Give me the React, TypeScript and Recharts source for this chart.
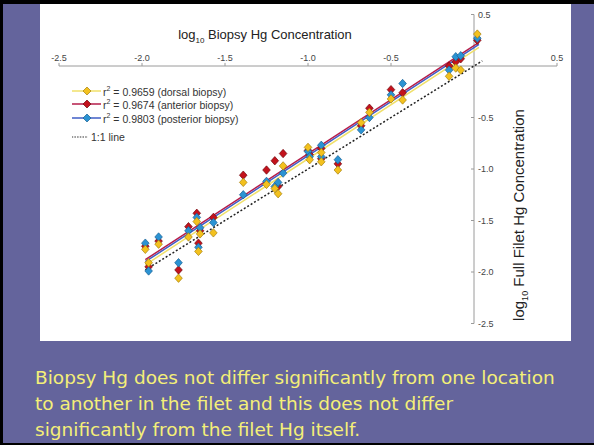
import { ScatterChart, Scatter, XAxis, YAxis, ReferenceLine } from 'recharts';

// tick labels (no 0 label on either axis)
const xTicks = [-2.5, -2.0, -1.5, -1.0, -0.5, 0.5];
const yTicks = [0.5, -0.5, -1.0, -1.5, -2.0, -2.5];

// one entry per fish, three biopsy locations
const biopsyX = [-1.98, -1.96, -1.9, -1.78, -1.72, -1.67, -1.65, -1.66, -1.57, -1.39, -1.25, -1.2, -1.15, -1.18, -1.0, -0.99, -0.92, -0.92, -0.82, -0.68, -0.63, -0.5, -0.43, -0.15, -0.11, -0.08, 0.02];
const dorsal = [-1.78, -1.91, -1.73, -2.06, -1.66, -1.51, -1.63, -1.8, -1.62, -1.13, -1.15, -1.19, -0.97, -1.24, -0.79, -0.91, -0.84, -0.93, -1.01, -0.55, -0.45, -0.32, -0.33, -0.1, -0.02, -0.04, 0.31];
const anterior = [-1.75, -1.95, -1.7, -1.98, -1.56, -1.43, -1.6, -1.72, -1.47, -1.06, -1.01, -0.92, -0.85, -1.17, -0.82, -0.86, -0.8, -0.9, -0.95, -0.58, -0.41, -0.23, -0.26, 0.0, 0.04, 0.07, 0.25];
const posterior = [-1.72, -1.99, -1.66, -1.91, -1.6, -1.47, -1.57, -1.76, -1.52, -1.25, -1.12, -1.17, -1.04, -1.13, -0.83, -0.88, -0.77, -0.88, -0.91, -0.62, -0.5, -0.28, -0.17, -0.04, 0.09, 0.1, 0.27];

// regression line end points
const fitX = [-1.98, 0.03];
const dorsalFit = [-1.93, 0.18];
const anteriorFit = [-1.88, 0.23];
const posteriorFit = [-1.9, 0.21];
const oneToOneX = [-1.98, 0.05];

const legendLabels = ['0.9659 (dorsal biopsy)', '0.9674 (anterior biopsy)', '0.9803 (posterior biopsy)'];

const COLORS = {
  dorsal: { fill: '#f3c11e', stroke: '#a5800c', line: '#f0e06a' },
  anterior: { fill: '#c3121c', stroke: '#70080e', line: '#b51d4a' },
  posterior: { fill: '#2b93d3', stroke: '#175f92', line: '#3f5ec6' },
};

const toPoints = (xs: number[], ys: number[]) => xs.map((x, i) => ({ x, y: ys[i] }));

const Diamond = ({ cx, cy, fill, stroke }: any) => {
  if (cx == null || cy == null) return <g />;
  return (
    <polygon
      points={`${cx},${cy - 4.2} ${cx + 3.8},${cy} ${cx},${cy + 4.2} ${cx - 3.8},${cy}`}
      fill={fill}
      stroke={stroke}
      strokeWidth={0.7}
    />
  );
};

const NoDot = () => <g />;

const font = '"Liberation Sans", Arial, sans-serif';

const LegendBox = () => {
  const rows = [COLORS.dorsal, COLORS.anterior, COLORS.posterior];
  return (
    <div style={{ position: 'absolute', left: 32, top: 80, fontFamily: font, fontSize: 10.5, color: '#333' }}>
      {rows.map((c, i) => (
        <div key={i} style={{ display: 'flex', alignItems: 'center', height: 13.5 }}>
          <svg width={29} height={10}>
            <line x1={0} y1={5} x2={29} y2={5} stroke={c.line} strokeWidth={1.5} />
            <polygon points="15,1 19,5 15,9 11,5" fill={c.fill} stroke={c.stroke} strokeWidth={0.7} />
          </svg>
          <span style={{ marginLeft: 2 }}>
            r<sup style={{ fontSize: 7 }}>2</sup> = {legendLabels[i]}
          </span>
        </div>
      ))}
      <div style={{ display: 'flex', alignItems: 'center', height: 13.5, marginTop: 6 }}>
        <svg width={29} height={10}>
          <line x1={-3} y1={5} x2={16} y2={5} stroke="#333" strokeWidth={1.2} strokeDasharray="1.5 1.2" />
        </svg>
        <span style={{ marginLeft: -10 }}>1:1 line</span>
      </div>
    </div>
  );
};

export default function App() {
  return (
    <div
      style={{
        position: 'absolute',
        left: 0,
        top: 0,
        width: 594,
        height: 445,
        background: '#64649c',
        borderTop: '4px solid #000',
        borderLeft: '3px solid #000',
        borderBottom: '2px solid #000',
        boxSizing: 'border-box',
        overflow: 'hidden',
      }}
    >
      <div style={{ position: 'absolute', left: 37, top: 0, width: 531, height: 337, background: '#fff' }}>
        <ScatterChart width={531} height={337} margin={{ top: 10.5, right: 14, bottom: 17.5, left: 19 }}>
          <XAxis type="number" dataKey="x" domain={[-2.5, 0.5]} hide allowDataOverflow />
          <YAxis type="number" dataKey="y" domain={[-2.5, 0.5]} hide allowDataOverflow />
          <ReferenceLine y={0} stroke="#9a9a9a" strokeWidth={1} ifOverflow="visible" />
          <ReferenceLine x={0} stroke="#9a9a9a" strokeWidth={1} ifOverflow="visible" />
          {xTicks.map((t) => (
            <ReferenceLine
              key={'x' + t}
              segment={[{ x: t, y: 0 }, { x: t, y: 0.03 }]}
              stroke="#9a9a9a"
              ifOverflow="visible"
              label={{ value: t.toFixed(1), position: 'top', offset: 2, fontSize: 9, fill: '#444', fontFamily: font }}
            />
          ))}
          {yTicks.map((t) => (
            <ReferenceLine
              key={'y' + t}
              segment={[{ x: -0.018, y: t }, { x: 0, y: t }]}
              stroke="#9a9a9a"
              ifOverflow="visible"
              label={{ value: t.toFixed(1), position: 'right', offset: 4, fontSize: 9, fill: '#444', fontFamily: font }}
            />
          ))}
          <Scatter
            data={toPoints(oneToOneX, oneToOneX)}
            line={{ stroke: '#222', strokeWidth: 1.5, strokeDasharray: '2 2' }}
            shape={NoDot}
            isAnimationActive={false}
          />
          <Scatter data={toPoints(fitX, dorsalFit)} line={{ stroke: COLORS.dorsal.line, strokeWidth: 1.5 }} shape={NoDot} isAnimationActive={false} />
          <Scatter data={toPoints(fitX, posteriorFit)} line={{ stroke: COLORS.posterior.line, strokeWidth: 1.5 }} shape={NoDot} isAnimationActive={false} />
          <Scatter data={toPoints(fitX, anteriorFit)} line={{ stroke: COLORS.anterior.line, strokeWidth: 1.5 }} shape={NoDot} isAnimationActive={false} />
          <Scatter
            data={toPoints(biopsyX, anterior)}
            shape={(p: any) => <Diamond {...p} fill={COLORS.anterior.fill} stroke={COLORS.anterior.stroke} />}
            isAnimationActive={false}
          />
          <Scatter
            data={toPoints(biopsyX, posterior)}
            shape={(p: any) => <Diamond {...p} fill={COLORS.posterior.fill} stroke={COLORS.posterior.stroke} />}
            isAnimationActive={false}
          />
          <Scatter
            data={toPoints(biopsyX, dorsal)}
            shape={(p: any) => <Diamond {...p} fill={COLORS.dorsal.fill} stroke={COLORS.dorsal.stroke} />}
            isAnimationActive={false}
          />
        </ScatterChart>
        <LegendBox />
        <div
          style={{
            position: 'absolute',
            left: 75,
            top: 23,
            width: 300,
            textAlign: 'center',
            fontFamily: font,
            fontSize: 13,
            color: '#222',
          }}
        >
          log<sub style={{ fontSize: 8 }}>10</sub> Biopsy Hg Concentration
        </div>
        <div
          style={{
            position: 'absolute',
            left: 479 - 150,
            top: 202,
            width: 300,
            height: 18,
            textAlign: 'center',
            fontFamily: font,
            fontSize: 15,
            color: '#222',
            transform: 'rotate(-90deg)',
          }}
        >
          log<sub style={{ fontSize: 9 }}>10</sub> Full Filet Hg Concentration
        </div>
      </div>
      <div
        style={{
          position: 'absolute',
          left: 32,
          top: 361,
          width: 560,
          fontFamily: '"DejaVu Sans", sans-serif',
          fontSize: 18.5,
          lineHeight: '26px',
          color: '#f4ef78',
          whiteSpace: 'nowrap',
        }}
      >
        Biopsy Hg does not differ significantly from one location
        <br />
        to another in the filet and this does not differ
        <br />
        significantly from the filet Hg itself.
      </div>
    </div>
  );
}
